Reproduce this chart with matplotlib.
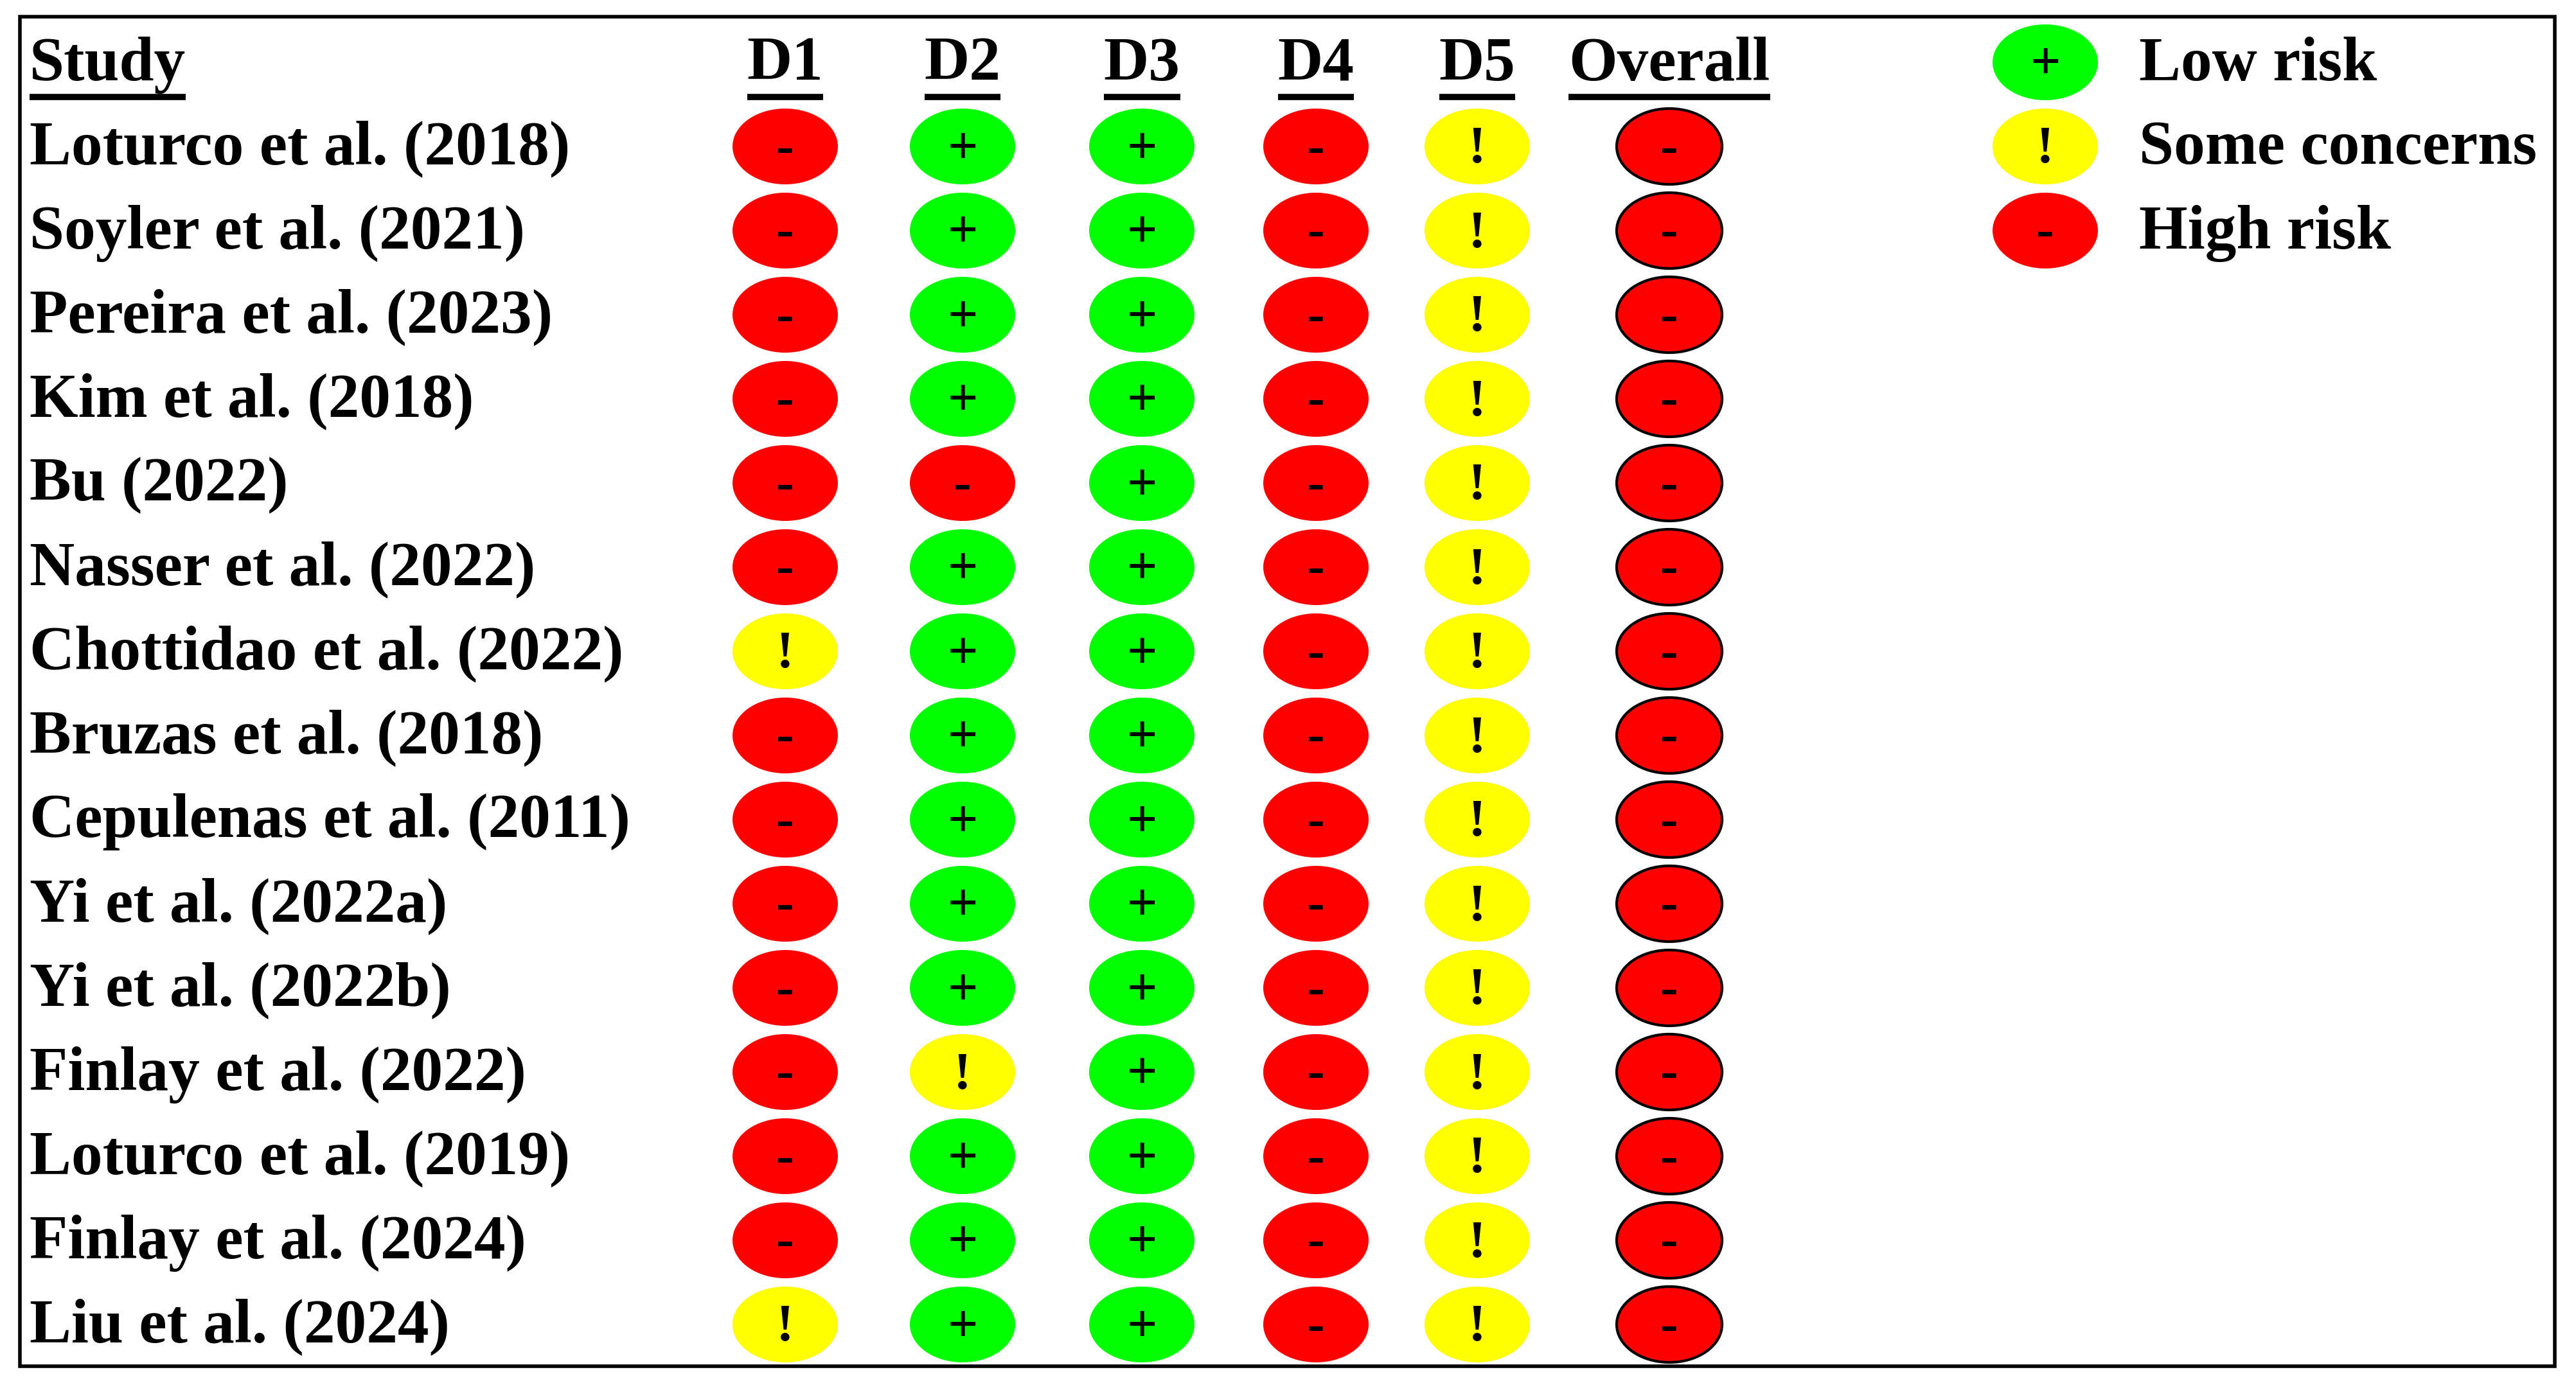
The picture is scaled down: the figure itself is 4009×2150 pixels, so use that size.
import matplotlib.pyplot as plt
from matplotlib.patches import Ellipse, Rectangle

studies = ['Loturco et al. (2018)', 'Soyler et al. (2021)', 'Pereira et al. (2023)',
           'Kim et al. (2018)', 'Bu (2022)', 'Nasser et al. (2022)',
           'Chottidao et al. (2022)', 'Bruzas et al. (2018)', 'Cepulenas et al. (2011)',
           'Yi et al. (2022a)', 'Yi et al. (2022b)', 'Finlay et al. (2022)',
           'Loturco et al. (2019)', 'Finlay et al. (2024)', 'Liu et al. (2024)']
domains = ['D1', 'D2', 'D3', 'D4', 'D5', 'Overall']
# H = high risk, L = low risk, S = some concerns
d1 = ['H', 'H', 'H', 'H', 'H', 'H', 'S', 'H', 'H', 'H', 'H', 'H', 'H', 'H', 'S']
d2 = ['L', 'L', 'L', 'L', 'H', 'L', 'L', 'L', 'L', 'L', 'L', 'S', 'L', 'L', 'L']
d3 = ['L'] * 15
d4 = ['H'] * 15
d5 = ['S'] * 15
overall = ['H'] * 15
judgements = [d1, d2, d3, d4, d5, overall]

colors = {'L': '#00ff00', 'S': '#ffff00', 'H': '#ff0000'}
symbols = {'L': '+', 'S': '!', 'H': '-'}
legend_labels = [('L', 'Low risk'), ('S', 'Some concerns'), ('H', 'High risk')]

W, H = 4009, 2150
fig = plt.figure(figsize=(W / 100, H / 100), dpi=100)
ax = fig.add_axes([0, 0, 1, 1])
ax.set_xlim(0, W)
ax.set_ylim(H, 0)
ax.axis('off')

font = dict(family='Liberation Serif', fontweight='bold')
fs = 70
sym_fs = 60
col_x = [1222, 1498, 1777, 2048, 2299, 2598]
row0, dy = 228, 131
header_y = 97
ew, eh = 164, 118

ax.add_patch(Rectangle((31, 26), 3945, 2101, fill=False, lw=4, ec='black'))

headers = [ax.text(46, header_y + 4, 'Study', ha='left', va='center', fontsize=fs, **font)]
for x, d in zip(col_x, domains):
    headers.append(ax.text(x, header_y + 4, d, ha='center', va='center', fontsize=fs, **font))

for i, s in enumerate(studies):
    y = row0 + i * dy
    ax.text(46, y + 4, s, ha='left', va='center', fontsize=fs, **font)
    for j, (x, col) in enumerate(zip(col_x, judgements)):
        r = col[i]
        edge = 'black' if j == len(domains) - 1 else 'none'
        ax.add_patch(Ellipse((x, y), ew, eh, fc=colors[r], ec=edge, lw=3))
        ax.text(x, y + 6, symbols[r], ha='center', va='center', fontsize=sym_fs, **font)

for k, (r, lab) in enumerate(legend_labels):
    y = header_y + k * dy
    ax.add_patch(Ellipse((3183, y), ew, eh, fc=colors[r], ec='none'))
    ax.text(3183, y + 6, symbols[r], ha='center', va='center', fontsize=sym_fs, **font)
    ax.text(3329, y + 4, lab, ha='left', va='center', fontsize=fs, **font)

# underline the header texts
fig.canvas.draw()
renderer = fig.canvas.get_renderer()
inv = ax.transData.inverted()
for t in headers:
    bb = t.get_window_extent(renderer)
    (x0, _), (x1, _) = inv.transform([(bb.x0, bb.y0), (bb.x1, bb.y1)])
    ax.plot([x0, x1], [header_y + 54, header_y + 54], color='black', lw=7,
            solid_capstyle='butt')

fig.savefig('out.png', dpi=100)
